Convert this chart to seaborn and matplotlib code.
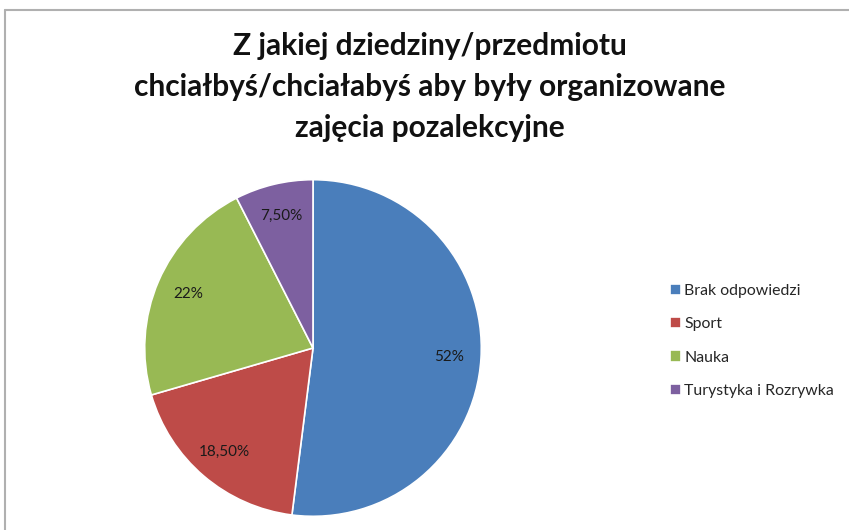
import matplotlib
matplotlib.use("Agg")
import matplotlib.pyplot as plt
import seaborn as sns
from matplotlib.lines import Line2D

sns.set_theme(style="white")
plt.rcParams['font.family'] = ['Lato', 'DejaVu Sans']

# data
categories = ["Brak odpowiedzi", "Sport", "Nauka", "Turystyka i Rozrywka"]
values = [52, 18.5, 22, 7.5]
value_labels = ["52%", "18,50%", "22%", "7,50%"]
colors = sns.color_palette(["#4A7EBB", "#BE4B48", "#98B954", "#7D60A0"])

title = "Z jakiej dziedziny/przedmiotu\nchciałbyś/chciałabyś aby były organizowane\nzajęcia pozalekcyjne"

fig = plt.figure(figsize=(8.49, 5.3), dpi=100)
fig.patch.set_facecolor("white")

# chart frame: only top and left edges show
top = 1 - 9.5 / 530
left = 4.5 / 849
fig.add_artist(Line2D([left, 1.0], [top, top], transform=fig.transFigure,
                      color="#B0B0B0", linewidth=1.5))
fig.add_artist(Line2D([left, left], [0, top], transform=fig.transFigure,
                      color="#B0B0B0", linewidth=1.5))

ax = fig.add_axes([143 / 849, 12 / 530, 340 / 849, 340 / 530])
wedges, texts = ax.pie(values, colors=colors, startangle=90, counterclock=False,
                       labels=value_labels, labeldistance=0.81,
                       wedgeprops=dict(edgecolor="white", linewidth=1.2),
                       textprops=dict(fontsize=11, color="#1a1a1a"))
for t in texts:
    t.set_horizontalalignment("center")
ax.set_xlim(-1.01, 1.01)
ax.set_ylim(-1.01, 1.01)
ax.set_aspect("equal")

fig.text(430 / 849, 1 - 87 / 530, title, ha="center", va="center",
         fontsize=21.5, fontweight="bold", color="#111111", linespacing=1.55)

fig.legend(wedges, categories, loc="center left",
           bbox_to_anchor=(656 / 849, 1 - 341 / 530), frameon=False,
           fontsize=11.4, handlelength=0.7, handleheight=0.7,
           handletextpad=0.2, labelspacing=1.2)

plt.savefig("out.png", dpi=100)
